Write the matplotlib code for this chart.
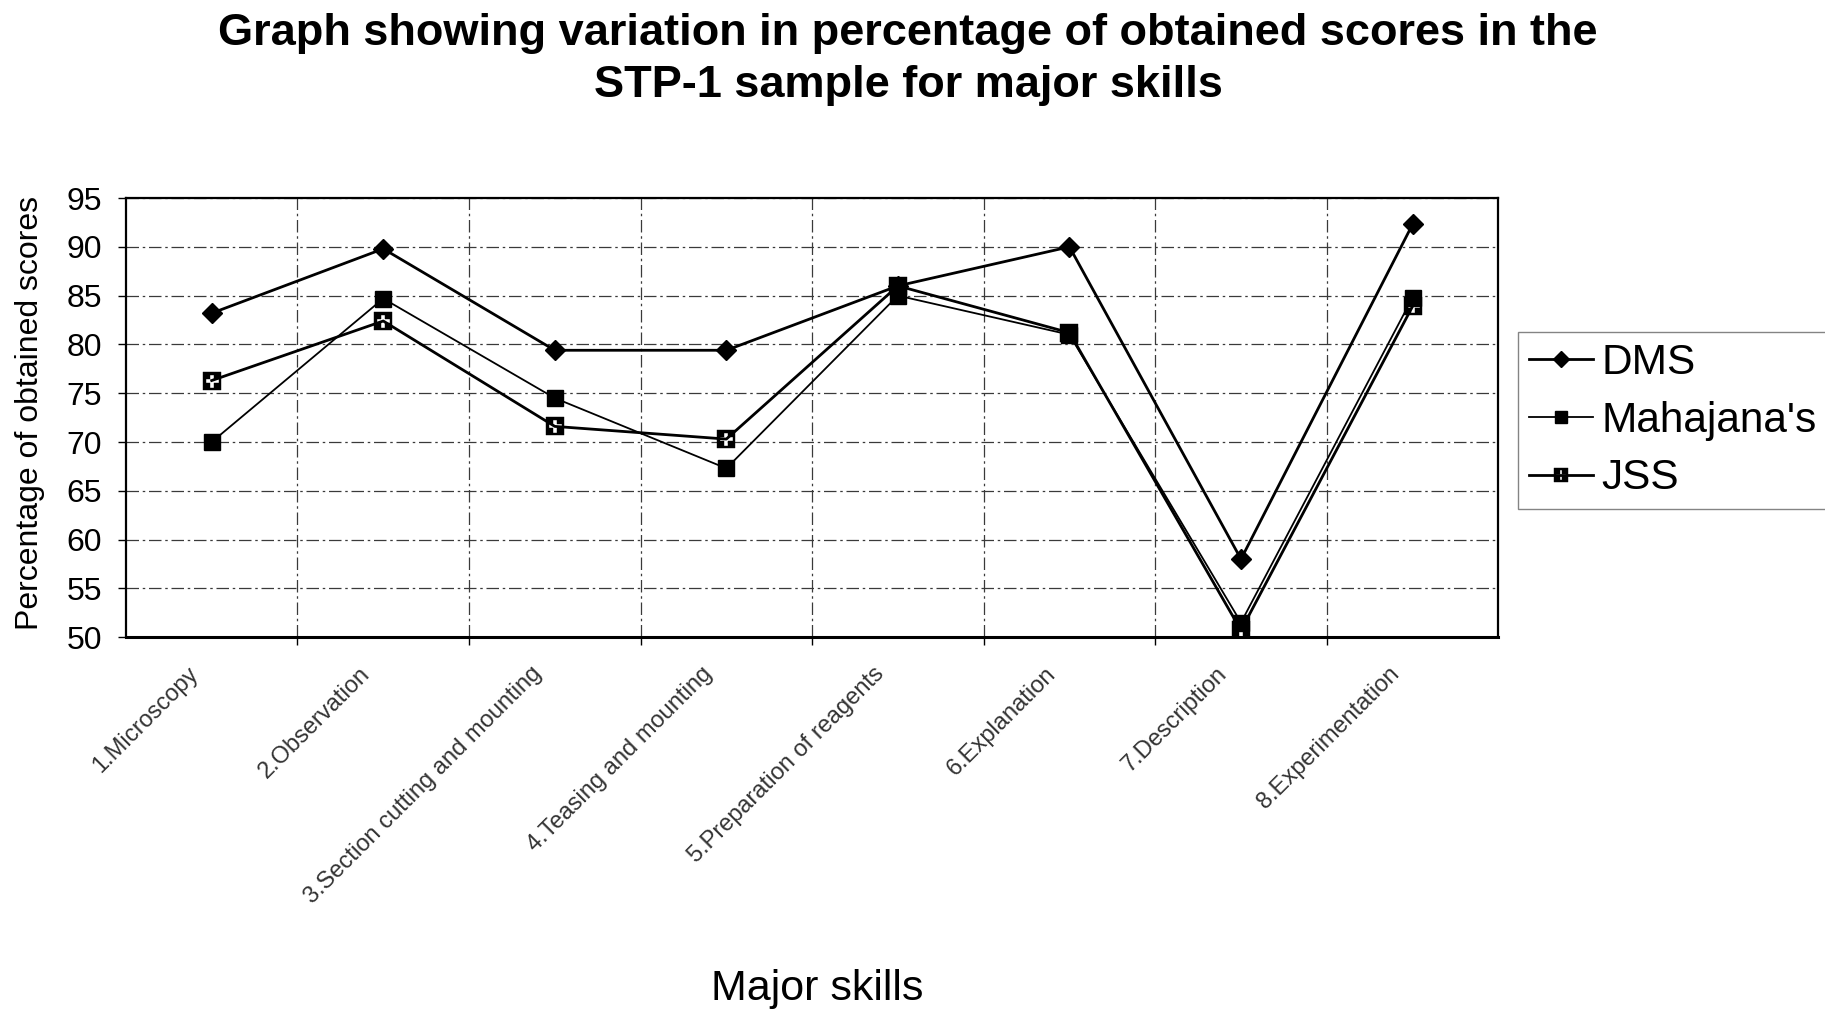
import matplotlib
matplotlib.use("Agg")
import matplotlib.pyplot as plt
import matplotlib.transforms as mtransforms
import numpy as np
from matplotlib.path import Path

plt.rcParams["font.family"] = ["Liberation Sans", "DejaVu Sans"]

# ==============================================
skills = ["1.Microscopy", "2.Observation", "3.Section cutting and mounting",
          "4.Teasing and mounting", "5.Preparation of reagents", "6.Explanation",
          "7.Description", "8.Experimentation"]

dms = [83.2, 89.8, 79.4, 79.4, 86.0, 90.0, 58.0, 92.3]
mahajanas = [70.0, 84.7, 74.5, 67.3, 85.0, 81.0, 51.5, 84.8]
jss = [76.3, 82.4, 71.6, 70.3, 86.0, 81.2, 50.7, 83.9]

series_names = ["DMS", "Mahajana's", "JSS"]
y_ticks = [50, 55, 60, 65, 70, 75, 80, 85, 90, 95]

title = "Graph showing variation in percentage of obtained scores in the\nSTP-1 sample for major skills"


# ==============================================
# square marker with a white cross cut out of it (JSS)
def cross_square_marker(a=0.72, w=0.2):
    outer = [(-1, -1), (1, -1), (1, 1), (-1, 1), (-1, -1)]
    plus = [(w, -a), (w, -w), (a, -w), (a, w), (w, w), (w, a), (-w, a),
            (-w, w), (-a, w), (-a, -w), (-w, -w), (-w, -a)]
    plus = plus[::-1] + [plus[-1]]
    verts = outer + plus
    codes = ([Path.MOVETO] + [Path.LINETO] * 3 + [Path.CLOSEPOLY]
             + [Path.MOVETO] + [Path.LINETO] * 11 + [Path.CLOSEPOLY])
    return Path(verts, codes)


jss_marker = cross_square_marker()

fig = plt.figure(figsize=(18.25, 10.13), dpi=100)
ax = fig.add_axes([0.069, 0.371, 0.752, 0.4335])

x = np.arange(len(skills))
ax.plot(x, dms, color="black", lw=2.0, marker="D", ms=10, mfc="black", mec="black", label=series_names[0], zorder=4)
ax.plot(x, mahajanas, color="black", lw=1.3, marker="s", ms=11, mfc="black", mec="black", label=series_names[1], zorder=3)
ax.plot(x, jss, color="black", lw=2.0, marker=jss_marker, ms=13, mfc="black", mec="black", mew=0.3,
        label=series_names[2], zorder=5)

ax.set_xlim(-0.5, len(skills) - 0.5)
ax.set_ylim(50, 95)

ax.set_yticks(y_ticks)
ax.set_yticklabels([str(v) for v in y_ticks], fontsize=23)
ax.tick_params(axis="y", length=6, width=1, pad=11, direction="out")

ax.set_xticks(x)
ax.set_xticklabels(skills, rotation=45, ha="right", va="center", rotation_mode="anchor",
                   fontsize=17, color="#333333")
ax.tick_params(axis="x", which="major", length=0, pad=24)
shift = mtransforms.ScaledTranslation(-0.17, 0, fig.dpi_scale_trans)
for lbl in ax.get_xticklabels():
    lbl.set_transform(lbl.get_transform() + shift)
ax.set_xticks(np.arange(0.5, len(skills) - 1, 1), minor=True)
ax.tick_params(axis="x", which="minor", length=6, width=1, direction="out")

grid_style = dict(color="#3a3a3a", lw=0.9, linestyle=(0, (10, 3, 2, 3)))
ax.grid(True, axis="y", which="major", **grid_style)
ax.grid(True, axis="x", which="minor", **grid_style)
ax.set_axisbelow(True)

for side in ["left", "right", "top"]:
    ax.spines[side].set_linewidth(1.6)
ax.spines["bottom"].set_linewidth(2.2)

ax.set_ylabel("Percentage of obtained scores", fontsize=23)
ax.yaxis.set_label_coords(-0.059, 0.51)

fig.text(0.448, 0.024, "Major skills", fontsize=31, ha="center", va="center")
fig.text(0.4975, 0.987, title, fontsize=32.5, fontweight="bold", ha="center", va="top", linespacing=1.35)

leg = ax.legend(loc="upper left", bbox_to_anchor=(0.832, 0.672), bbox_transform=fig.transFigure,
                fontsize=30.5, frameon=True, fancybox=False, edgecolor="#666666",
                handlelength=1.5, handletextpad=0.2, labelspacing=0.42, borderpad=0.25, borderaxespad=0,
                markerscale=0.8)
leg.get_frame().set_linewidth(1.0)

plt.savefig("out.png", dpi=100)
